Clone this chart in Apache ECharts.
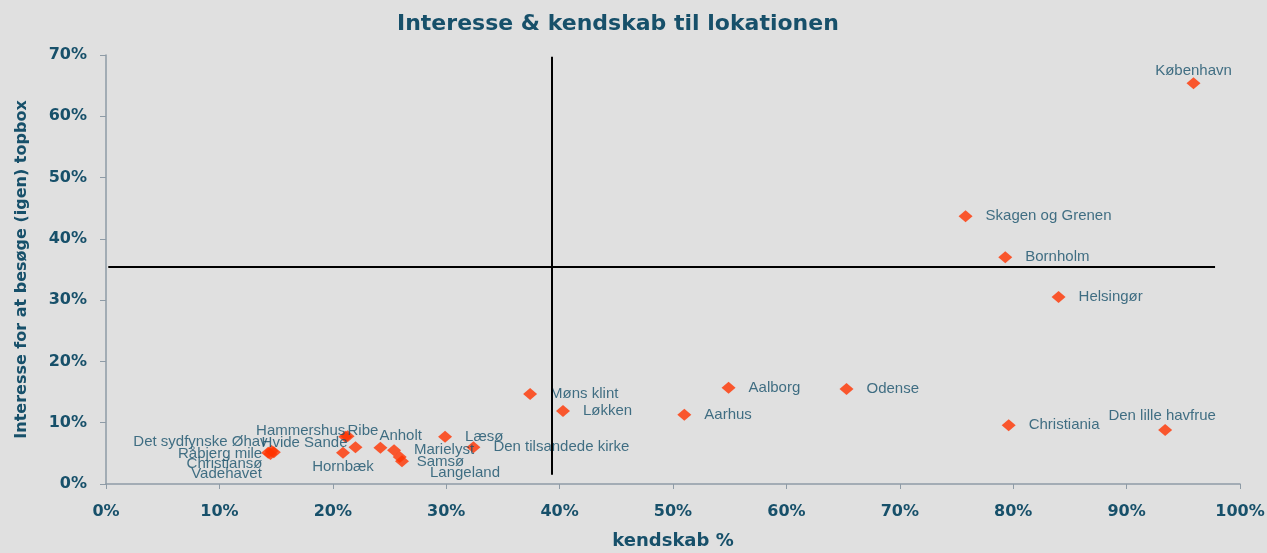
<!DOCTYPE html>
<html>
<head>
<meta charset="utf-8">
<script src="https://cdn.jsdelivr.net/npm/echarts@6/dist/echarts.min.js"></script>
<style>
  html, body { margin: 0; padding: 0; background: #e0e0e0; }
  #chart { width: 1267px; height: 553px; }
</style>
</head>
<body>
<div id="chart"></div>
<script>
// lokationer
var names = ['København', 'Skagen og Grenen', 'Bornholm', 'Helsingør', 'Møns klint', 'Løkken',
  'Aalborg', 'Odense', 'Aarhus', 'Christiania', 'Den lille havfrue', 'Læsø', 'Den tilsandede kirke',
  'Langeland', 'Anholt', 'Marielyst', 'Samsø', 'Hammershus', 'Ribe', 'Hvide Sande', 'Hornbæk',
  'Det sydfynske Øhav', 'Råbjerg mile', 'Christiansø', 'Vadehavet'];
var kendskab = [95.9, 75.8, 79.3, 84.0, 37.4, 40.3,
  54.9, 65.3, 51.0, 79.6, 93.4, 29.9, 32.4,
  26.1, 24.2, 25.4, 25.9, 21.1, 21.3, 22.0, 20.9,
  14.6, 14.3, 14.5, 14.8];
var interesse = [65.4, 43.7, 37.0, 30.5, 14.7, 11.9,
  15.7, 15.5, 11.3, 9.6, 8.8, 7.7, 6.0,
  3.7, 5.9, 5.5, 4.4, 7.7, 7.8, 6.0, 5.1,
  5.4, 5.1, 4.9, 5.2];
var xTicks = [0, 10, 20, 30, 40, 50, 60, 70, 80, 90, 100];
var yTicks = [0, 10, 20, 30, 40, 50, 60, 70];
// gennemsnit (kryds-linjer)
var snitKendskab = 39.3;
var snitInteresse = 35.5;

// label placering pr. punkt (px i forhold til symbolets boks 14x12)
var labelPlacering = {
  'København': { position: [7, -6], align: 'center' },
  'Den lille havfrue': { position: [4, -8], align: 'center' },
  'Langeland': { position: [35, 18], align: 'left' },
  'Samsø': { position: [24, 11], align: 'left' },
  'Hornbæk': { position: [7, 20], align: 'center' },
  'Anholt': { position: [6, -6], align: 'left' },
  'Hammershus': { position: [7, 0], align: 'right' },
  'Ribe': { position: [7, 1], align: 'left' },
  'Hvide Sande': { position: [-1, 2], align: 'right' },
  'Det sydfynske Øhav': { position: [3, -3], align: 'right' },
  'Råbjerg mile': { position: [1, 7], align: 'right' },
  'Christiansø': { position: [-1, 16], align: 'right' },
  'Vadehavet': { position: [-5, 28], align: 'right' }
};

var textColor = '#17506a';

var data = names.map(function (n, i) {
  var item = { name: n, value: [kendskab[i], interesse[i]] };
  var p = labelPlacering[n];
  if (p) item.label = { position: p.position, align: p.align, verticalAlign: 'middle' };
  return item;
});

var chart = echarts.init(document.getElementById('chart'));
chart.setOption({
  backgroundColor: '#e0e0e0',
  animation: false,
  title: {
    text: 'Interesse & kendskab til lokationen',
    left: 392,
    top: 8,
    textStyle: { fontFamily: 'DejaVu Sans', fontWeight: 'bold', fontSize: 22, color: textColor }
  },
  grid: { left: 106, right: 27, top: 55, bottom: 69, containLabel: false, outerBoundsMode: 'none' },
  xAxis: {
    type: 'value',
    min: xTicks[0],
    max: xTicks[xTicks.length - 1],
    interval: 10,
    name: 'kendskab %',
    nameLocation: 'middle',
    nameGap: 48,
    nameTextStyle: { fontFamily: 'DejaVu Sans', fontWeight: 'bold', fontSize: 18, color: textColor },
    axisLine: { show: true, lineStyle: { color: '#8e9ba6', width: 1.5 } },
    axisTick: { show: true, length: 5, lineStyle: { color: '#8e9ba6' } },
    splitLine: { show: false },
    axisLabel: {
      formatter: '{value}%', margin: 20,
      fontFamily: 'DejaVu Sans', fontWeight: 'bold', fontSize: 16, color: textColor
    }
  },
  yAxis: {
    type: 'value',
    min: yTicks[0],
    max: yTicks[yTicks.length - 1],
    interval: 10,
    name: 'Interesse for at besøge (igen) topbox',
    nameLocation: 'middle',
    nameGap: 76,
    nameTextStyle: { fontFamily: 'DejaVu Sans', fontWeight: 'bold', fontSize: 16, color: textColor },
    axisLine: { show: true, lineStyle: { color: '#8e9ba6', width: 1.5 } },
    axisTick: { show: true, length: 6, lineStyle: { color: '#8e9ba6' } },
    splitLine: { show: false },
    axisLabel: {
      formatter: '{value}%', margin: 19,
      fontFamily: 'DejaVu Sans', fontWeight: 'bold', fontSize: 16, color: textColor
    }
  },
  series: [{
    type: 'scatter',
    symbol: 'diamond',
    symbolSize: [14, 12],
    itemStyle: { color: '#ff3300' },
    data: data,
    label: {
      show: true,
      position: 'right',
      distance: 13,
      formatter: '{b}',
      fontFamily: 'Liberation Sans',
      fontSize: 15,
      color: textColor
    },
    labelLayout: { hideOverlap: false },
    markLine: {
      silent: true,
      symbol: 'none',
      label: { show: false },
      lineStyle: { color: '#000', width: 2, type: 'solid' },
      data: [
        [{ coord: [snitKendskab, 1.5] }, { coord: [snitKendskab, 69.7] }],
        [{ coord: [0.2, snitInteresse] }, { coord: [97.8, snitInteresse] }]
      ]
    }
  }]
});
</script>
</body>
</html>
